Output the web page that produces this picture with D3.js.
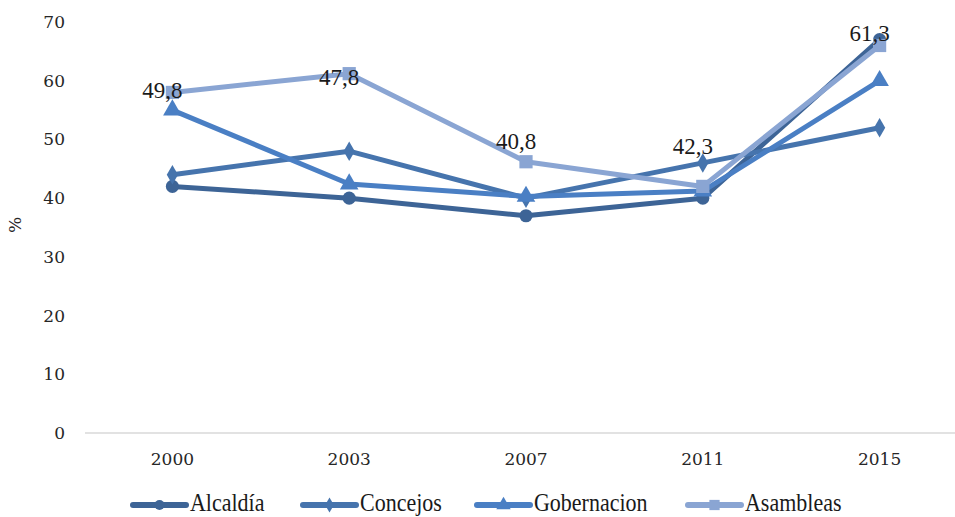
<!DOCTYPE html>
<html><head><meta charset="utf-8">
<script src="https://cdn.jsdelivr.net/npm/d3@7"></script>
<style>body{margin:0;background:#fff}svg{display:block}</style>
</head><body><svg id="c" width="955" height="517"></svg>
<script>
const years = ["2000","2003","2007","2011","2015"];
const seriesNames = ["Alcaldía","Concejos","Gobernacion","Asambleas"];
const alcaldia = [42, 40, 37, 40, 67];
const concejos = [44, 48, 40, 46, 52];
const gobernacion = [55, 42.4, 40.3, 41.2, 60];
const asambleas = [58, 61.2, 46.2, 42, 66];
const labelTexts = ["49,8","47,8","40,8","42,3","61,3"];
const labelAt = [57.1, 59.3, 48.4, 47.5, 66.8];
const yTicks = [0,10,20,30,40,50,60,70];

const TICKF = "'DejaVu Serif'";
const TEXTF = "'Liberation Serif'";
const colors = ["#3d6496","#4674ad","#4a7fc4","#8aa5d3"];
const shapes = [d3.symbolCircle, d3.symbolDiamond, d3.symbolTriangle, d3.symbolSquare];
const sizes = [135, 110, 150, 175];
const allSeries = [alcaldia, concejos, gobernacion, asambleas];

const svg = d3.select("#c");
const x = d3.scaleBand().domain(years).range([84, 968]).padding(0);
const cx = d => x(d) + x.bandwidth()/2;
const y = d3.scaleLinear().domain([0,70]).range([433, 22]);

// y axis labels
const ya = svg.append("g").attr("transform","translate(65,0)")
  .call(d3.axisLeft(y).tickValues(yTicks).tickSize(0).tickPadding(0).tickFormat(d3.format("d")));
ya.select(".domain").remove();
ya.selectAll("text").style("font-family",TICKF).style("font-size","17px").attr("fill","#262626");

// x axis line and labels
const xa = svg.append("g").attr("transform","translate(0,433)")
  .call(d3.axisBottom(x).tickSize(0).tickPadding(20));
xa.select(".domain").attr("stroke","#d9d9d9").attr("stroke-width",1.3).attr("d","M85,0H955");
xa.selectAll("text").style("font-family",TICKF).style("font-size","17px").attr("fill","#262626");

svg.append("text").attr("transform","translate(21,225) rotate(-90)")
  .attr("text-anchor","middle").style("font-family",TICKF).style("font-size","17px")
  .attr("fill","#262626").text("%");

const line = d3.line().x((d,i)=>cx(years[i])).y(d=>y(d));
allSeries.forEach((s,k)=>{
  const g = svg.append("g");
  g.append("path").attr("d", line(s)).attr("fill","none").attr("stroke",colors[k])
    .attr("stroke-width",5).attr("stroke-linejoin","round");
  g.selectAll("path.m").data(s).join("path").attr("class","m")
    .attr("transform",(d,i)=>`translate(${cx(years[i])},${y(d)})`)
    .attr("d", d3.symbol().type(shapes[k]).size(sizes[k])())
    .attr("fill",colors[k]);
});

// data labels
svg.append("g").selectAll("text").data(labelTexts).join("text")
  .attr("x",(d,i)=>cx(years[i])-10).attr("y",(d,i)=>y(labelAt[i]))
  .attr("text-anchor","middle").style("font-family",TEXTF).style("font-size","23px")
  .attr("fill","#1a1a1a").text(d=>d);

// legend
const legX = [133, 303, 477, 688];
const lg = svg.append("g");
seriesNames.forEach((n,k)=>{
  const g = lg.append("g").attr("transform",`translate(${legX[k]},505)`);
  g.append("line").attr("x1",0).attr("x2",53).attr("stroke",colors[k]).attr("stroke-width",6).attr("stroke-linecap","round");
  g.append("path").attr("transform","translate(26.5,0)").attr("d",d3.symbol().type(shapes[k]).size(sizes[k]*0.6)()).attr("fill",colors[k]);
  g.append("text").attr("transform","translate(57,5.5) scale(1,1.15)")
    .style("font-family",TEXTF).style("font-size","22px")
    .attr("fill","#1a1a1a").text(n);
});
</script></body></html>
